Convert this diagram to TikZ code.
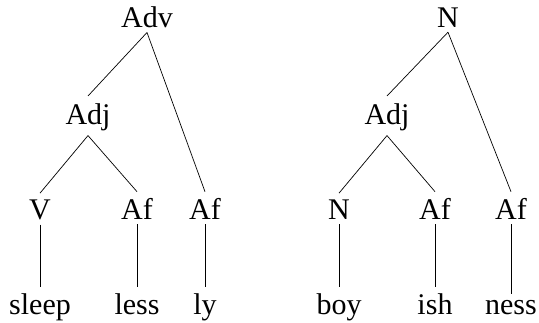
\documentclass[tikz,border=0pt]{standalone}
\usepackage{fontspec}
\setmainfont{Liberation Serif}
\begin{document}
\begin{tikzpicture}[x=1pt,y=-1pt,
  lbl/.style={anchor=base,inner xsep=0pt,inner ysep=4pt,font=\fontsize{30}{36}\selectfont},
  branch/.style={line width=0.7pt}]
\useasboundingbox (0,0) rectangle (539,323);
% sleepless-ly
\node[lbl] (adv)   at (147,28)  {Adv};
\node[lbl] (adjA)  at (88,125)  {Adj};
\node[lbl] (v)     at (40,220)  {V};
\node[lbl] (afA)   at (137,220) {Af};
\node[lbl] (afB)   at (205,220) {Af};
\node[lbl] (sleep) at (40,315)  {sleep};
\node[lbl] (less)  at (137,315) {less};
\node[lbl] (ly)    at (205,315) {ly};
% boy-ish-ness
\node[lbl] (n)     at (448,28)  {N};
\node[lbl] (adjB)  at (387,125) {Adj};
\node[lbl] (nB)    at (339,220) {N};
\node[lbl] (afC)   at (435,220) {Af};
\node[lbl] (afD)   at (511,220) {Af};
\node[lbl] (boy)   at (339,315) {boy};
\node[lbl] (ish)   at (435,315) {ish};
\node[lbl] (ness)  at (511,315) {ness};
\begin{scope}[branch]
\draw (adv.south) -- ([yshift=4pt]adjA.north);
\draw (adv.south) -- ([yshift=3pt]afB.north);
\draw (adjA.south) -- ([yshift=3pt]v.north);
\draw (adjA.south) -- ([yshift=3pt]afA.north);
\draw (v.south) -- ([yshift=3pt]sleep.north);
\draw (afA.south) -- ([yshift=3pt]less.north);
\draw (afB.south) -- ([yshift=3pt]ly.north);
\draw (n.south) -- ([yshift=4pt]adjB.north);
\draw (n.south) -- ([yshift=3pt]afD.north);
\draw (adjB.south) -- ([yshift=3pt]nB.north);
\draw (adjB.south) -- ([yshift=3pt]afC.north);
\draw (nB.south) -- ([yshift=3pt]boy.north);
\draw (afC.south) -- ([yshift=3pt]ish.north);
\draw (afD.south) -- ([yshift=3pt]ness.north);
\end{scope}
\end{tikzpicture}
\end{document}
